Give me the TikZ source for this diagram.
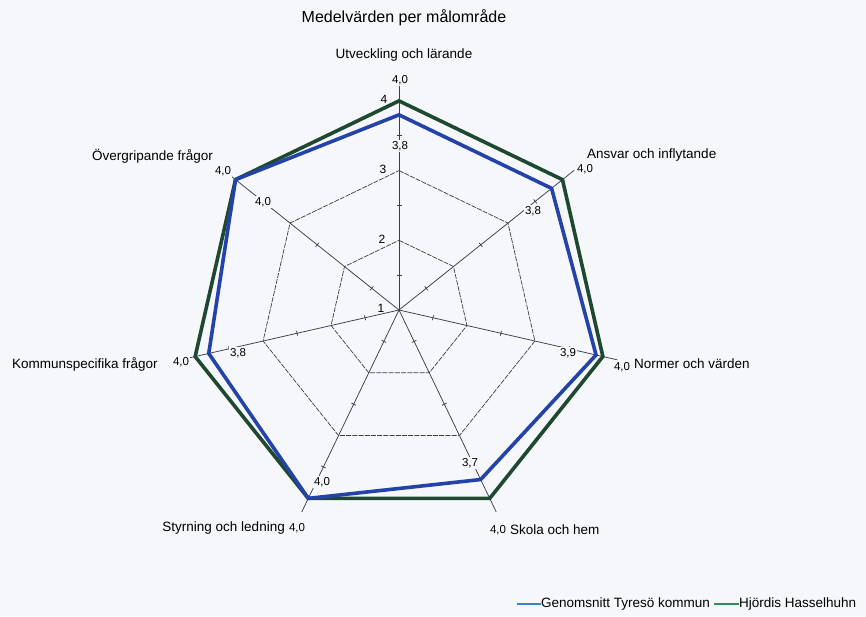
\documentclass[tikz,border=0pt]{standalone}
\usepackage{fontspec}
\setmainfont{Liberation Sans}
\usetikzlibrary{calc}
\definecolor{bg}{RGB}{246,247,251}
\definecolor{gridc}{RGB}{55,62,80}
\definecolor{serA}{RGB}{36,67,168}
\definecolor{serB}{RGB}{30,72,48}
\definecolor{legA}{RGB}{60,130,200}
\definecolor{legB}{RGB}{50,140,90}
\begin{document}
\begin{tikzpicture}[x=1pt,y=-1pt,
  gridline/.style={draw=gridc, line width=0.75pt},
  ring/.style={draw=gridc, line width=0.7pt, dash pattern=on 5pt off 1.2pt},
  axlabel/.style={font=\fontsize{13.5}{15}\selectfont, inner sep=0pt},
  vallabel/.style={font=\fontsize{11.5}{13}\selectfont, fill=bg, inner sep=1pt},
  scalelabel/.style={font=\fontsize{12}{13}\selectfont, inner sep=0pt},
  serieslineA/.style={draw=serA, line width=3.6pt, line join=miter},
  serieslineB/.style={draw=serB, line width=3.6pt, line join=miter},
  legtext/.style={font=\fontsize{13.5}{15}\selectfont, inner sep=0pt, anchor=west}]
\fill[bg] (0,0) rectangle (866,616);
\useasboundingbox (0,0) rectangle (866,616);
\coordinate (C) at (399,310);
\def\u{69.7}
% spokes and ticks
\foreach \k in {0,...,6} {
  \pgfmathsetmacro\a{-90+\k*360/7}
  \coordinate (r2-\k) at ($(C)+(\a:{1*\u})$);
  \coordinate (r3-\k) at ($(C)+(\a:{2*\u})$);
  \coordinate (r4-\k) at ($(C)+(\a:{3*\u})$);
  \coordinate (sp\k) at ($(C)+(\a:224)$);
  \draw[gridline] (C) -- (sp\k);
  \foreach \t in {0.5,1.5,2.5} {
    \draw[gridline] ($(C)+(\a:{\t*\u})+(\a+90:2.5)$) -- ($(C)+(\a:{\t*\u})+(\a-90:2.5)$);
  }
}
\foreach \lv in {2,3,4} {
  \draw[ring] (r\lv-0) -- (r\lv-1) -- (r\lv-2) -- (r\lv-3) -- (r\lv-4) -- (r\lv-5) -- (r\lv-6) -- cycle;
}
% series
\foreach \v [count=\k from 0] in {4.0,4.0,4.0,4.0,4.0,4.0,4.0} {
  \coordinate (g\k) at ($(C)+({-90+\k*360/7}:{(\v-1)*\u})$);
}
\foreach \v [count=\k from 0] in {3.8,3.8,3.9,3.7,4.0,3.8,4.0} {
  \coordinate (b\k) at ($(C)+({-90+\k*360/7}:{(\v-1)*\u})$);
}
\draw[serieslineB] (g0) -- (g1) -- (g2) -- (g3) -- (g4) -- (g5) -- (g6) -- cycle;
\draw[serieslineA] (b0) -- (b1) -- (b2) -- (b3) -- (b4) -- (b5) -- (b6) -- cycle;
% scale labels
\node[scalelabel] (s4) at (384,99) {4};
\node[scalelabel] (s3) at (383,169) {3};
\node[scalelabel] (s2) at (382,239) {2};
\node[scalelabel] (s1) at (381,308) {1};
% value labels
\node[vallabel] (vg0) at (400,80) {4,0};
\node[vallabel] (vb0) at (400,146) {3,8};
\node[vallabel] (vg1) at (585,169) {4,0};
\node[vallabel] (vb1) at (533,211) {3,8};
\node[vallabel] (vb2) at (568,353) {3,9};
\node[vallabel] (vg2) at (622,367) {4,0};
\node[vallabel] (vb3) at (470,463) {3,7};
\node[vallabel] (vg3) at (498,530) {4,0};
\node[vallabel] (vb4) at (322,482) {4,0};
\node[vallabel] (vg4) at (297,528) {4,0};
\node[vallabel] (vg5) at (181,362) {4,0};
\node[vallabel] (vb5) at (238,353) {3,8};
\node[vallabel] (vg6) at (223,171) {4,0};
\node[vallabel] (vb6) at (263,202) {4,0};
% axis labels
\node[axlabel] (a0) at (404,55) {Utveckling och lärande};
\node[axlabel, anchor=west] (a1) at (587,155) {Ansvar och inflytande};
\node[axlabel, anchor=west] (a2) at (634,364) {Normer och värden};
\node[axlabel, anchor=west] (a3) at (510,530) {Skola och hem};
\node[axlabel, anchor=east] (a4) at (285,528) {Styrning och ledning};
\node[axlabel, anchor=west] (a5) at (12,364) {Kommunspecifika frågor};
\node[axlabel, anchor=west] (a6) at (92,156) {Övergripande frågor};
% title
\node[font=\fontsize{16}{18}\selectfont, inner sep=0pt] (title) at (404,18) {Medelvärden per målområde};
% legend
\coordinate (lA) at (517,604);
\node[legtext] (ltA) at (541,604) {Genomsnitt Tyresö kommun};
\draw[legA, line width=2.6pt] (lA) -- (ltA.west);
\coordinate (lB) at (714,604);
\node[legtext] (ltB) at (739,604) {Hjördis Hasselhuhn};
\draw[legB, line width=2.6pt] (lB) -- (ltB.west);
\end{tikzpicture}
\end{document}
